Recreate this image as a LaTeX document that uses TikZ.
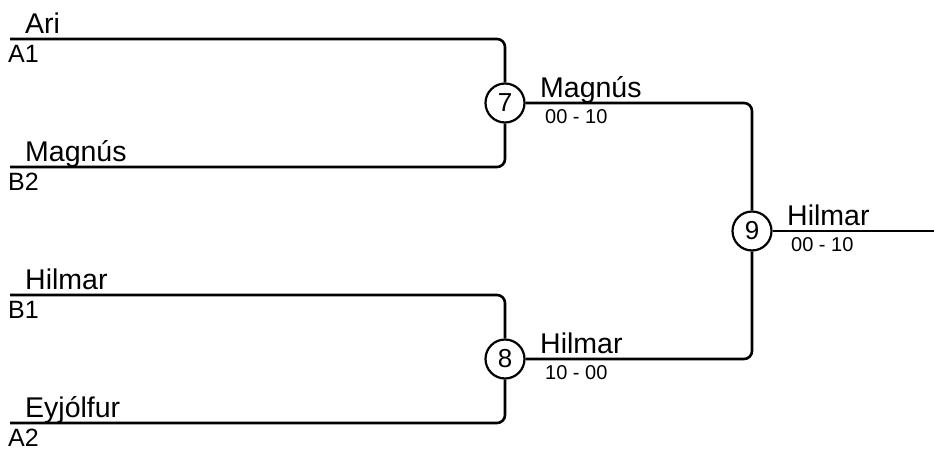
\documentclass[tikz,border=0pt]{standalone}
\usepackage{fontspec}
\setmainfont{Liberation Sans}
\begin{document}
\begin{tikzpicture}[x=1pt,y=-1pt,
  wire/.style={line width=2.6pt, rounded corners=8pt},
  game/.style={circle, draw, line width=2.2pt, minimum size=39pt, inner sep=0pt, font=\fontsize{26}{26}\selectfont},
  pname/.style={anchor=base west, inner sep=0pt, font=\fontsize{28.5}{29}\selectfont},
  seed/.style={anchor=base west, inner sep=0pt, font=\fontsize{25}{25}\selectfont},
  score/.style={anchor=base west, inner sep=0pt, font=\fontsize{20}{20}\selectfont}]
\useasboundingbox (0,0) rectangle (934,450);
% game circles
\node[game] (c7) at (505,103) {7};
\node[game] (c8) at (505,359) {8};
\node[game] (c9) at (752,231) {9};
% line starts
\coordinate (s1) at (10,39);
\coordinate (s2) at (10,167);
\coordinate (s3) at (10,295);
\coordinate (s4) at (10,423);
\coordinate (fin) at (934,231);
% connectors
\draw[wire] (s1) -| (c7);
\draw[wire] (s2) -| (c7);
\draw[wire] (s3) -| (c8);
\draw[wire] (s4) -| (c8);
\draw[wire] (c7) -| (c9);
\draw[wire] (c8) -| (c9);
\draw[wire] (c9) -- (fin);
% left texts
\node[pname] (n1) at (25,33.5) {Ari};
\node[seed] (l1) at (8,62) {A1};
\node[pname] (n2) at (25,161.5) {Magnús};
\node[seed] (l2) at (8,190) {B2};
\node[pname] (n3) at (25,289.5) {Hilmar};
\node[seed] (l3) at (8,318) {B1};
\node[pname] (n4) at (25,417.5) {Eyjólfur};
\node[seed] (l4) at (8,446) {A2};
% right texts
\node[pname] (w7) at (540,97) {Magnús};
\node[score] (r7) at (545,123) {00 - 10};
\node[pname] (w8) at (540,353.5) {Hilmar};
\node[score] (r8) at (545,379.5) {10 - 00};
\node[pname] (w9) at (787,225) {Hilmar};
\node[score] (r9) at (791,251) {00 - 10};
\end{tikzpicture}
\end{document}
